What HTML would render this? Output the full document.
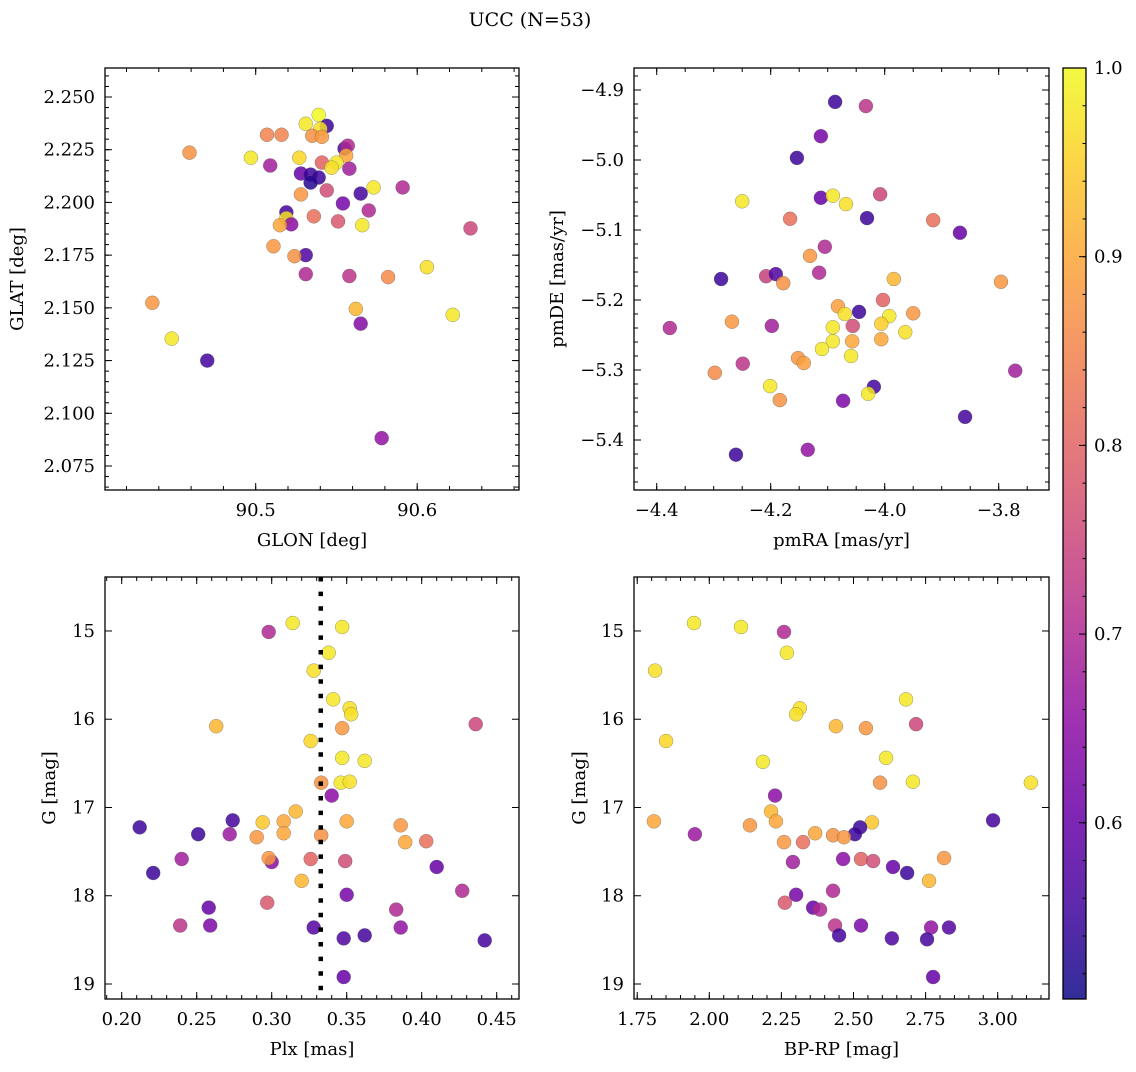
<!DOCTYPE html>
<html><head><meta charset="utf-8"><style>
html,body{margin:0;padding:0;background:#fff;}
svg text{font-family:"DejaVu Serif","Liberation Serif",serif;fill:#000;}
</style></head><body>
<svg id="fig" width="1136" height="1067" viewBox="0 0 1136 1067" xmlns="http://www.w3.org/2000/svg">
<text x="530" y="26" font-size="19" text-anchor="middle">UCC (N=53)</text>
</svg>
<script>
// ---- data ----
const p1GLON=[90.459,90.507,90.516,90.539,90.531,90.544,90.540,90.535,90.541,90.555,90.557,90.556,90.497,90.509,90.527,90.541,90.550,90.547,90.558,90.528,90.534,90.539,90.534,90.573,90.591,90.544,90.565,90.528,90.554,90.570,90.519,90.519,90.522,90.515,90.536,90.551,90.566,90.633,90.511,90.531,90.524,90.531,90.558,90.582,90.606,90.436,90.562,90.622,90.565,90.448,90.470,90.578];
const p1GLAT=[2.2236,2.2321,2.2321,2.2415,2.2373,2.2363,2.2349,2.2316,2.2311,2.2255,2.2269,2.2222,2.2212,2.2175,2.2212,2.2189,2.2189,2.2165,2.2160,2.2137,2.2132,2.2118,2.2094,2.2071,2.2071,2.2057,2.2042,2.2038,2.1995,2.1962,2.1953,2.1925,2.1896,2.1892,2.1934,2.1910,2.1892,2.1877,2.1792,2.1750,2.1745,2.1660,2.1651,2.1646,2.1693,2.1524,2.1495,2.1467,2.1425,2.1354,2.1250,2.0882];
const p1Prob=[0.87,0.85,0.85,1.0,0.98,0.55,0.97,0.87,0.88,0.57,0.70,0.9,0.98,0.68,0.96,0.80,0.98,0.97,0.68,0.6,0.55,0.55,0.53,0.98,0.7,0.76,0.56,0.88,0.62,0.7,0.56,0.97,0.65,0.9,0.82,0.78,0.98,0.75,0.88,0.57,0.87,0.7,0.72,0.86,0.97,0.88,0.92,0.98,0.64,0.98,0.56,0.66];

const p2pmRA=[-4.087,-4.033,-4.112,-4.154,-4.250,-4.112,-4.091,-4.068,-4.008,-4.166,-4.031,-3.915,-3.868,-4.105,-4.131,-4.287,-4.208,-4.191,-4.178,-4.115,-3.984,-3.796,-4.003,-4.082,-4.045,-4.070,-3.992,-3.950,-4.377,-4.268,-4.198,-4.056,-4.006,-4.091,-3.964,-4.057,-4.006,-4.091,-4.110,-4.059,-4.152,-4.142,-4.249,-4.298,-3.771,-4.201,-4.184,-4.019,-4.029,-4.073,-3.859,-4.261,-4.135];
const p2pmDE=[-4.917,-4.923,-4.966,-4.997,-5.059,-5.054,-5.051,-5.063,-5.049,-5.084,-5.083,-5.086,-5.104,-5.124,-5.137,-5.170,-5.166,-5.163,-5.176,-5.161,-5.170,-5.174,-5.200,-5.209,-5.217,-5.220,-5.223,-5.219,-5.240,-5.231,-5.237,-5.237,-5.234,-5.239,-5.246,-5.259,-5.256,-5.259,-5.270,-5.280,-5.283,-5.290,-5.291,-5.304,-5.301,-5.323,-5.343,-5.324,-5.334,-5.344,-5.367,-5.421,-5.414];
const p2Prob=[0.55,0.72,0.62,0.55,0.98,0.6,0.98,0.97,0.75,0.82,0.55,0.82,0.6,0.7,0.88,0.55,0.74,0.57,0.87,0.7,0.92,0.88,0.8,0.89,0.55,0.97,0.98,0.88,0.7,0.88,0.68,0.76,0.95,0.98,0.97,0.9,0.9,0.98,0.98,0.98,0.88,0.89,0.72,0.86,0.68,0.98,0.87,0.56,0.98,0.63,0.56,0.55,0.66];

const p3Plx=[0.314,0.347,0.298,0.338,0.328,0.341,0.352,0.353,0.263,0.347,0.436,0.326,0.347,0.362,0.333,0.346,0.352,0.340,0.316,0.274,0.294,0.308,0.350,0.386,0.212,0.251,0.272,0.290,0.308,0.333,0.389,0.403,0.240,0.300,0.298,0.326,0.349,0.221,0.410,0.320,0.350,0.427,0.297,0.258,0.383,0.239,0.259,0.386,0.328,0.348,0.362,0.442,0.348];
const p3G=[14.910,14.955,15.011,15.247,15.449,15.775,15.876,15.944,16.079,16.101,16.056,16.247,16.438,16.472,16.719,16.719,16.708,16.865,17.045,17.146,17.169,17.157,17.157,17.202,17.225,17.303,17.303,17.337,17.292,17.315,17.393,17.382,17.584,17.618,17.573,17.584,17.607,17.742,17.674,17.831,17.989,17.944,18.079,18.135,18.157,18.337,18.337,18.360,18.360,18.483,18.449,18.506,18.921];
const p3Prob=[0.98,0.98,0.7,0.98,0.97,0.98,0.97,0.97,0.92,0.88,0.75,0.96,0.98,0.98,0.87,0.98,0.97,0.65,0.92,0.56,0.94,0.9,0.9,0.88,0.55,0.55,0.67,0.88,0.9,0.87,0.9,0.82,0.68,0.65,0.88,0.8,0.76,0.55,0.6,0.92,0.62,0.7,0.78,0.6,0.7,0.72,0.63,0.66,0.58,0.57,0.56,0.56,0.6];
const plxMedian=[0.3327];

const p4BPRP=[1.947,2.110,2.259,2.269,1.812,2.682,2.314,2.301,2.439,2.543,2.717,1.850,2.613,2.186,2.592,2.706,3.115,2.228,2.214,2.984,2.564,2.231,1.808,2.141,2.523,2.505,1.950,2.259,2.367,2.429,2.467,2.325,2.290,2.464,2.814,2.526,2.568,2.686,2.637,2.762,2.301,2.429,2.262,2.360,2.384,2.436,2.526,2.769,2.831,2.633,2.755,2.450,2.776];
const p4G=[14.910,14.955,15.011,15.247,15.449,15.775,15.876,15.944,16.079,16.101,16.056,16.247,16.438,16.483,16.719,16.708,16.719,16.865,17.045,17.146,17.169,17.157,17.157,17.202,17.225,17.303,17.303,17.393,17.292,17.315,17.337,17.393,17.618,17.584,17.573,17.584,17.607,17.742,17.674,17.831,17.989,17.944,18.079,18.135,18.157,18.337,18.337,18.360,18.360,18.483,18.494,18.449,18.921];
const p4Prob=[0.98,0.98,0.7,0.98,0.97,0.98,0.97,0.97,0.92,0.88,0.75,0.96,0.98,0.98,0.87,0.98,0.97,0.65,0.92,0.56,0.94,0.9,0.9,0.88,0.55,0.55,0.67,0.88,0.9,0.87,0.88,0.82,0.68,0.65,0.88,0.8,0.76,0.55,0.6,0.92,0.62,0.7,0.78,0.6,0.7,0.72,0.63,0.66,0.58,0.57,0.56,0.56,0.6];

const p1XTicks=[90.5,90.6], p1XTickLabels=["90.5","90.6"];
const p1YTicks=[2.075,2.1,2.125,2.15,2.175,2.2,2.225,2.25], p1YTickLabels=["2.075","2.100","2.125","2.150","2.175","2.200","2.225","2.250"];
const p2XTicks=[-4.4,-4.2,-4.0,-3.8], p2XTickLabels=["\u22124.4","\u22124.2","\u22124.0","\u22123.8"];
const p2YTicks=[-4.9,-5.0,-5.1,-5.2,-5.3,-5.4], p2YTickLabels=["\u22124.9","\u22125.0","\u22125.1","\u22125.2","\u22125.3","\u22125.4"];
const p3XTicks=[0.2,0.25,0.3,0.35,0.4,0.45], p3XTickLabels=["0.20","0.25","0.30","0.35","0.40","0.45"];
const gTicks=[15,16,17,18,19], gTickLabels=["15","16","17","18","19"];
const p4XTicks=[1.75,2.0,2.25,2.5,2.75,3.0], p4XTickLabels=["1.75","2.00","2.25","2.50","2.75","3.00"];
const cbTicks=[0.6,0.7,0.8,0.9,1.0], cbTickLabels=["0.6","0.7","0.8","0.9","1.0"];
const vmin=0.5066, vmax=1.0;

// ---- helpers ----
const NS="http://www.w3.org/2000/svg";
const svg=document.getElementById('fig');
const FS=18;
function el(tag,attrs,parent){const e=document.createElementNS(NS,tag);for(const k in attrs)e.setAttribute(k,attrs[k]);(parent||svg).appendChild(e);return e;}
const plasmaStops=[[13,8,135],[65,4,157],[106,0,168],[143,13,164],[177,42,144],[204,71,120],[225,100,98],[242,132,75],[252,166,54],[252,206,37],[240,249,33]];
function plasma(t){t=Math.max(0,Math.min(1,t));const f=t*10,i=Math.min(9,Math.floor(f)),u=f-i;const a=plasmaStops[i],b=plasmaStops[i+1];
 return 'rgb('+[0,1,2].map(k=>Math.round(a[k]+(b[k]-a[k])*u)).join(',')+')';}
function colorOf(p){return plasma((p-vmin)/(vmax-vmin));}

function panel(cfg){
 const {name,x0,x1,y0,y1,xlim,ylim}=cfg;
 const g=el('g',{});
 
 
 const sx=v=>x0+(v-xlim[0])/(xlim[1]-xlim[0])*(x1-x0);
 const sy=v=>y1-(v-ylim[0])/(ylim[1]-ylim[0])*(y1-y0);
 const ticks=el('g',{stroke:'#000','stroke-width':1},g);
 
 
 const eps=1e-9;
 let start=Math.ceil((xlim[0]-eps)/cfg.xMinor);
 for(let k=start;k*cfg.xMinor<=xlim[1]+eps;k++){const X=sx(k*cfg.xMinor);
  el('line',{x1:X,x2:X,y1:y1,y2:y1-4},ticks);el('line',{x1:X,x2:X,y1:y0,y2:y0+4},ticks);}
 start=Math.ceil((ylim[0]-eps)/cfg.yMinor);
 for(let k=start;k*cfg.yMinor<=ylim[1]+eps;k++){const Y=sy(k*cfg.yMinor);
  el('line',{x1:x0,x2:x0+4,y1:Y,y2:Y},ticks);el('line',{x1:x1,x2:x1-4,y1:Y,y2:Y},ticks);}
 cfg.xTicks.forEach((v,i)=>{const X=sx(v);
  el('line',{x1:X,x2:X,y1:y1,y2:y1-7},ticks);el('line',{x1:X,x2:X,y1:y0,y2:y0+7},ticks);
  const t=el('text',{x:X,y:y1+26,'font-size':FS,'text-anchor':'middle'},g);t.textContent=cfg.xTickLabels[i];
  
  });
 cfg.yTicks.forEach((v,i)=>{const Y=sy(v);
  el('line',{x1:x0,x2:x0+7,y1:Y,y2:Y},ticks);el('line',{x1:x1,x2:x1-7,y1:Y,y2:Y},ticks);
  const t=el('text',{x:x0-10,y:Y+6,'font-size':FS,'text-anchor':'end'},g);t.textContent=cfg.yTickLabels[i];
  
  });
 const pts=el('g',{},g);
 
 
 cfg.xs.forEach((xv,i)=>{
  const c=el('circle',{cx:sx(xv),cy:sy(cfg.ys[i]),r:7,fill:colorOf(cfg.ps[i]),'fill-opacity':0.85,stroke:'#555','stroke-opacity':0.6,'stroke-width':0.5},pts);
  
  });
 if(cfg.vline!==undefined){const X=sx(cfg.vline);
  const l=el('line',{x1:X,x2:X,y1:y0,y2:y1,stroke:'#000','stroke-width':4.5,'stroke-dasharray':'4.5 10.1'},g);
  
  }
 const fr=el('rect',{x:x0,y:y0,width:x1-x0,height:y1-y0,fill:'none',stroke:'#000','stroke-width':1.3},g);
 
 
 const xl=el('text',{x:(x0+x1)/2,y:y1+56,'font-size':FS,'text-anchor':'middle'},g);xl.textContent=cfg.xLabel;
 
 
 const yl=el('text',{x:cfg.yLabelX,y:(y0+y1)/2,'font-size':FS,'text-anchor':'middle',transform:'rotate(-90 '+cfg.yLabelX+' '+(y0+y1)/2+')'},g);yl.textContent=cfg.yLabel;
 
 
}

panel({name:'glon-glat-panel',x0:105,x1:519,y0:68,y1:490,xlim:[90.5+(105-255.7)/1615,90.5+(519-255.7)/1615],ylim:[2.25-393/2108.6,2.25+29/2108.6],
 xMinor:0.02,yMinor:0.005,xTicks:p1XTicks,xTickLabels:p1XTickLabels,yTicks:p1YTicks,yTickLabels:p1YTickLabels,
 xs:p1GLON,ys:p1GLAT,ps:p1Prob,xLabel:'GLON [deg]',yLabel:'GLAT [deg]',yLabelX:23});
panel({name:'pm-panel',x0:634,x1:1049,y0:68,y1:490,xlim:[-4.4+(634-656.7)/570,-4.4+(1049-656.7)/570],ylim:[-4.9-400/700,-4.9+22/700],
 xMinor:0.05,yMinor:0.02,xTicks:p2XTicks,xTickLabels:p2XTickLabels,yTicks:p2YTicks,yTickLabels:p2YTickLabels,
 xs:p2pmRA,ys:p2pmDE,ps:p2Prob,xLabel:'pmRA [mas/yr]',yLabel:'pmDE [mas/yr]',yLabelX:563});
panel({name:'plx-g-panel',x0:105,x1:519,y0:577,y1:999,xlim:[0.2+(105-121.7)/1500,0.2+(519-121.7)/1500],ylim:[19+15/88.3,15-54/88.3],
 xMinor:0.01,yMinor:0.2,xTicks:p3XTicks,xTickLabels:p3XTickLabels,yTicks:gTicks,yTickLabels:gTickLabels,
 xs:p3Plx,ys:p3G,ps:p3Prob,xLabel:'Plx [mas]',yLabel:'G [mag]',yLabelX:55,vline:plxMedian[0]});
panel({name:'cmd-panel',x0:634,x1:1049,y0:577,y1:999,xlim:[1.75+(634-637.2)/288.4,1.75+(1049-637.2)/288.4],ylim:[19+15/88.3,15-54/88.3],
 xMinor:0.05,yMinor:0.2,xTicks:p4XTicks,xTickLabels:p4XTickLabels,yTicks:gTicks,yTickLabels:gTickLabels,
 xs:p4BPRP,ys:p4G,ps:p4Prob,xLabel:'BP-RP [mag]',yLabel:'G [mag]',yLabelX:585});

// ---- colorbar ----
(function(){
 const cx0=1063,cx1=1086,cy0=68,cy1=999;
 const defs=el('defs',{});
 const lg=el('linearGradient',{id:'cbg',x1:0,y1:1,x2:0,y2:0},defs);
 for(let i=0;i<=20;i++){el('stop',{offset:(i/20),'stop-color':plasma(i/20),'stop-opacity':0.85},lg);}
 const g=el('g',{});
 
 
 const r=el('rect',{x:cx0,y:cy0,width:cx1-cx0,height:cy1-cy0,fill:'url(#cbg)',stroke:'#000','stroke-width':1.3},g);
 
 
 const sy=v=>cy1-(v-vmin)/(vmax-vmin)*(cy1-cy0);
 for(let k=Math.ceil(vmin/0.02);k*0.02<=vmax+1e-9;k++){const Y=sy(k*0.02);el('line',{x1:cx1,x2:cx1-3.5,y1:Y,y2:Y,stroke:'#000','stroke-width':1},g);}
 cbTicks.forEach((v,i)=>{const Y=sy(v);
  el('line',{x1:cx1,x2:cx1-7,y1:Y,y2:Y,stroke:'#000','stroke-width':1},g);
  const t=el('text',{x:cx1+8,y:Y+6,'font-size':FS},g);t.textContent=cbTickLabels[i];
  
  });
})();
</script>
</body></html>
